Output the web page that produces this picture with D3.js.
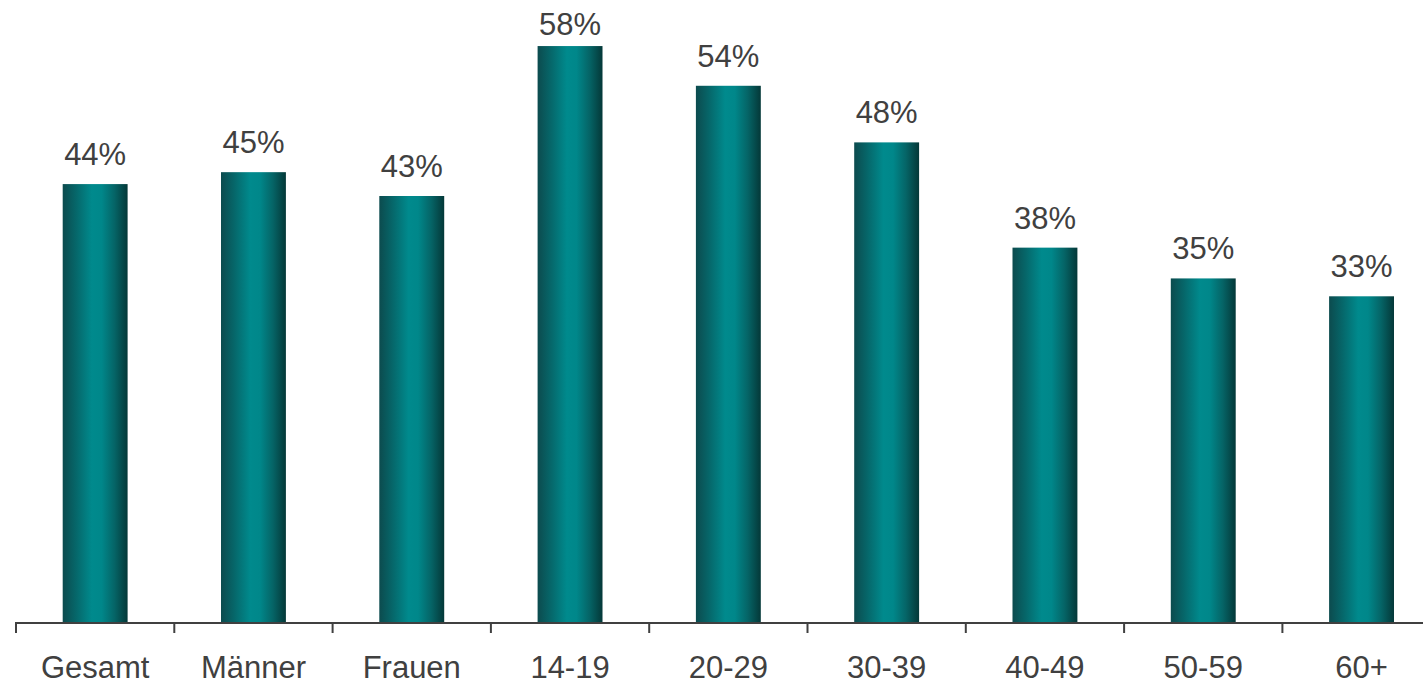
<!DOCTYPE html>
<html><head><meta charset="utf-8">
<script src="https://cdn.jsdelivr.net/npm/d3@7"></script>
<style>body{margin:0;background:#fff}svg{display:block}</style>
</head><body>
<svg id="c" width="1423" height="682"></svg>
<script>
const categories = ["Gesamt","Männer","Frauen","14-19","20-29","30-39","40-49","50-59","60+"];
const values = [44.1,45.3,42.9,58.0,54.0,48.3,37.7,34.6,32.8];
const valueLabels = ["44%","45%","43%","58%","54%","48%","38%","35%","33%"];

const svg = d3.select("#c");
const left = 16, step = 158.3, base = 622;
const x = d3.scaleBand().domain(categories).range([left, left + step*categories.length]).paddingInner(0.59).paddingOuter(0.295);
const y = d3.scaleLinear().domain([0,60]).range([base, base - 595.8]);

const defs = svg.append("defs");
const g = defs.append("linearGradient").attr("id","bg").attr("x1","0").attr("x2","1").attr("y1","0").attr("y2","0");
[[0,"#0c4b4e"],[0.2,"#066669"],[0.45,"#008a8d"],[0.6,"#00878a"],[0.8,"#056466"],[1,"#043838"]]
  .forEach(([o,c])=>g.append("stop").attr("offset",o).attr("stop-color",c));

svg.selectAll("rect.bar").data(values).join("rect").attr("class","bar")
  .attr("x",(d,i)=>x(categories[i])).attr("width",x.bandwidth())
  .attr("y",d=>y(d)).attr("height",d=>base-y(d)).attr("fill","url(#bg)");

svg.selectAll("text.val").data(values).join("text").attr("class","val")
  .attr("x",(d,i)=>x(categories[i])+x.bandwidth()/2).attr("y",d=>Math.max(y(d)-19, 35))
  .attr("text-anchor","middle").attr("font-family","Liberation Sans, Arial, sans-serif")
  .attr("font-size",31).attr("fill","#404040").text((d,i)=>valueLabels[i]);

// axis
const ax = svg.append("g");
ax.append("line").attr("x1",left).attr("x2",left+step*categories.length).attr("y1",base+1).attr("y2",base+1)
  .attr("stroke","#404040").attr("stroke-width",2);
d3.range(categories.length+1).forEach(i=>{
  ax.append("line").attr("x1",left+i*step).attr("x2",left+i*step).attr("y1",base).attr("y2",base+11)
    .attr("stroke","#404040").attr("stroke-width",2);
});
svg.selectAll("text.cat").data(categories).join("text").attr("class","cat")
  .attr("x",d=>x(d)+x.bandwidth()/2).attr("y",678)
  .attr("text-anchor","middle").attr("font-family","Liberation Sans, Arial, sans-serif")
  .attr("font-size",31).attr("fill","#404040").text(d=>d);
</script>
</body></html>
